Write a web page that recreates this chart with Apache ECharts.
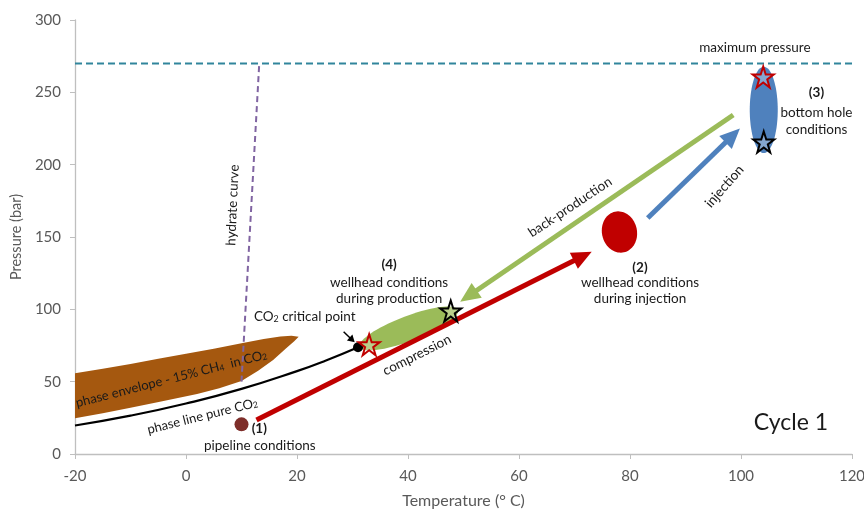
<!DOCTYPE html>
<html><head><meta charset="utf-8">
<script src="https://cdn.jsdelivr.net/npm/echarts@6/dist/echarts.min.js"></script>
<style>html,body{margin:0;padding:0;background:#fff}#c{width:864px;height:511px}</style>
</head><body><div id="c"></div>
<script>
// ---- data (data coordinates: temperature °C, pressure bar) ----
const xTicks = [-20, 0, 20, 40, 60, 80, 100, 120];
const yTicks = [0, 50, 100, 150, 200, 250, 300];
const maxPressure = [[-20, 270], [120, 270]];
const hydrateCurve = [[10, 50], [13.2, 270]];
const phaseLineCO2 = [[-20, 19.7], [-10, 26.5], [0, 34.9], [10, 45.0], [20, 57.3], [25, 64.3], [31, 73.8]];
const criticalPoint = [[31, 73.8]];
const pipelinePoint = [[10, 20.5]];
const phaseEnvelopeTop = [[-20, 55.8], [-15, 58.9], [-10, 62.2], [-5, 65.9], [0, 69.3], [5, 72.8], [10, 76.5], [14, 79.5], [17, 81.2], [19, 81.8], [20.3, 81]];
const phaseEnvelopeBottom = [[19.5, 78], [18, 73], [15.7, 65], [13, 57.5], [10, 50.5], [6, 45.5], [2, 41.5], [-4.7, 36.2], [-10, 32], [-15, 28.2], [-20, 24.7]];
const redStars = [[33, 75.5], [104, 260.6]];
const blackStars = [[47.7, 98.8], [104.1, 215.7]];
// arrows: [xStart, yStart, xTip, yTip]
const compressionArrow = [12.7, 23.5, 73.1, 139.8];
const backProductionArrow = [98.6, 234.3, 49.4, 105.3];
const injectionArrow = [83.2, 163.1, 99.8, 225];
const criticalArrow = [28.4, 84.5, 30.4, 77.2];
// ellipses: major axis end points [x1, y1, x2, y2]
const productionEllipse = [31.3, 74, 49, 99.6];
const injectionEllipse = [77.3, 167.5, 78.9, 139.4];
const bottomHoleEllipse = [104.1, 267.7, 104.1, 208];
// text annotations anchored in data coordinates
const annotations = [
  { x: 102.5, y: 280.6, text: 'maximum pressure', kind: 'note' },
  { x: 8.4, y: 172, text: 'hydrate curve', kind: 'vert' },
  { x: 113.6, y: 249.5, text: '(3)', kind: 'bold' },
  { x: 113.6, y: 235.7, text: 'bottom hole', kind: 'note' },
  { x: 113.6, y: 224.0, text: 'conditions', kind: 'note' },
  { x: 81.8, y: 128.6, text: '(2)', kind: 'bold' },
  { x: 81.8, y: 118.2, text: 'wellhead conditions', kind: 'note' },
  { x: 81.8, y: 107.3, text: 'during injection', kind: 'note' },
  { x: 36.6, y: 130.6, text: '(4)', kind: 'bold' },
  { x: 36.6, y: 118.2, text: 'wellhead conditions', kind: 'note' },
  { x: 36.6, y: 107.6, text: 'during production', kind: 'note' },
  { x: 21.4, y: 95.4, text: '{n|CO}{s|2}{n| critical point}', kind: 'rich' },
  { x: 13.2, y: 17.8, text: '(1)', kind: 'bold' },
  { x: 13.3, y: 5.6, text: 'pipeline conditions', kind: 'note' },
  { x: 109, y: 21.4, text: 'Cycle 1', kind: 'big' },
  { x: 41.6, y: 68.4, text: 'compression', kind: 'alongRed' },
  { x: 69.2, y: 170.7, text: 'back-production', kind: 'alongGreen' },
  { x: 97.0, y: 185.0, text: 'injection', kind: 'alongBlue' },
  { x: -2.7, y: 53.0, text: '{n|phase envelope - 15% CH}{s|4}{n|  in CO}{s|2}', kind: 'envelope' },
  { x: 2.9, y: 27.2, text: '{n|phase line pure CO}{s|2}', kind: 'phaseline' }
];

// ---- styling ----
const FONT = 'Lato, "Open Sans", sans-serif';
const TXT = '#1a1a1a';
const deg = Math.PI / 180;
const kindStyle = {
  note: { size: 13.5, rot: 0, weight: 'normal' },
  bold: { size: 13.5, rot: 0, weight: 'bold' },
  vert: { size: 13.5, rot: 87.5, weight: 'normal' },
  rich: { size: 13.5, rot: 0, weight: 'normal' },
  big: { size: 23, rot: 0, weight: 'normal' },
  alongRed: { size: 13.5, rot: 26.7, weight: 'normal' },
  alongGreen: { size: 13.5, rot: 33.6, weight: 'normal' },
  alongBlue: { size: 13.5, rot: 49, weight: 'normal' },
  envelope: { size: 13, rot: 14.4, weight: 'normal' },
  phaseline: { size: 13, rot: 14, weight: 'normal' }
};
const richSub = (size) => ({
  n: { fontSize: size, fontFamily: FONT, color: TXT, lineHeight: 16, verticalAlign: 'bottom' },
  s: { fontSize: size * 0.66, fontFamily: FONT, color: TXT, lineHeight: 9, verticalAlign: 'bottom' }
});

const chart = echarts.init(document.getElementById('c'), null, { renderer: 'canvas' });

function arrowSeries(name, arr, color, width, headLen, headHalf) {
  return {
    type: 'custom', name, z: 5, silent: true,
    data: [arr],
    renderItem(params, api) {
      const p1 = api.coord([api.value(0), api.value(1)]);
      const p2 = api.coord([api.value(2), api.value(3)]);
      const dx = p2[0] - p1[0], dy = p2[1] - p1[1];
      const L = Math.sqrt(dx * dx + dy * dy);
      const ux = dx / L, uy = dy / L;
      const bx = p2[0] - ux * headLen, by = p2[1] - uy * headLen;
      return {
        type: 'group', children: [
          { type: 'line', shape: { x1: p1[0], y1: p1[1], x2: bx + ux * 1, y2: by + uy * 1 }, style: { stroke: color, lineWidth: width } },
          { type: 'polygon', shape: { points: [[p2[0], p2[1]], [bx - uy * headHalf, by + ux * headHalf], [bx + uy * headHalf, by - ux * headHalf]] }, style: { fill: color } }
        ]
      };
    }
  };
}

function ellipseSeries(name, arr, color, semiMinor, z) {
  return {
    type: 'custom', name, z: z || 3, silent: true,
    data: [arr],
    renderItem(params, api) {
      const p1 = api.coord([api.value(0), api.value(1)]);
      const p2 = api.coord([api.value(2), api.value(3)]);
      const cx = (p1[0] + p2[0]) / 2, cy = (p1[1] + p2[1]) / 2;
      const dx = p2[0] - p1[0], dy = p2[1] - p1[1];
      const a = Math.sqrt(dx * dx + dy * dy) / 2;
      const ang = Math.atan2(dy, dx);
      const pts = [];
      for (let i = 0; i < 72; i++) {
        const t = i / 72 * Math.PI * 2;
        const ex = a * Math.cos(t), ey = semiMinor * Math.sin(t);
        pts.push([cx + ex * Math.cos(ang) - ey * Math.sin(ang), cy + ex * Math.sin(ang) + ey * Math.cos(ang)]);
      }
      return { type: 'polygon', shape: { points: pts }, style: { fill: color } };
    }
  };
}

const starPath = 'path://M50,2 L61.5,37 L98,37 L68.5,58.5 L79.5,94 L50,72 L20.5,94 L31.5,58.5 L2,37 L38.5,37 Z';

const option = {
  animation: false,
  backgroundColor: '#ffffff',
  grid: { left: 75, right: 12, top: 20, bottom: 57, containLabel: false, outerBoundsMode: 'none' },
  xAxis: {
    type: 'value', min: xTicks[0], max: xTicks[xTicks.length - 1], interval: xTicks[1] - xTicks[0],
    name: 'Temperature (° C)', nameLocation: 'middle', nameGap: 39,
    nameTextStyle: { color: '#595959', fontSize: 16, fontFamily: FONT },
    axisLine: { onZero: false, lineStyle: { color: '#BFBFBF', width: 1.3 } },
    axisTick: { show: true, length: 5, lineStyle: { color: '#BFBFBF' } },
    axisLabel: { color: '#595959', fontSize: 15, fontFamily: FONT, margin: 15 },
    splitLine: { show: false }
  },
  yAxis: {
    type: 'value', min: yTicks[0], max: yTicks[yTicks.length - 1], interval: yTicks[1] - yTicks[0],
    name: 'Pressure (bar)', nameLocation: 'middle', nameGap: 50, nameRotate: 90,
    nameTextStyle: { color: '#595959', fontSize: 14.5, fontFamily: FONT },
    axisLine: { show: true, onZero: false, lineStyle: { color: '#BFBFBF', width: 1.3 } },
    axisTick: { show: true, length: 5, lineStyle: { color: '#BFBFBF' } },
    axisLabel: { color: '#595959', fontSize: 15, fontFamily: FONT, margin: 14 },
    splitLine: { show: false }
  },
  series: [
    {
      type: 'custom', name: 'phase envelope', z: 2, silent: true,
      data: [0],
      renderItem(params, api) {
        const pts = phaseEnvelopeTop.concat(phaseEnvelopeBottom).map(p => api.coord(p));
        return { type: 'polygon', shape: { points: pts }, style: { fill: '#A5580F' } };
      }
    },
    {
      type: 'line', name: 'hydrate curve', data: hydrateCurve, showSymbol: false, z: 3, silent: true,
      lineStyle: { color: '#8064A2', width: 2, type: [6, 4] }
    },
    {
      type: 'line', name: 'maximum pressure', data: maxPressure, showSymbol: false, z: 3, silent: true,
      lineStyle: { color: '#31859C', width: 2, type: [7, 4] }
    },
    {
      type: 'line', name: 'phase line pure CO2', data: phaseLineCO2, showSymbol: false, smooth: true, z: 4, silent: true,
      lineStyle: { color: '#000000', width: 2.2 }
    },
    ellipseSeries('production', productionEllipse, '#9BBB59', 12.5),
    ellipseSeries('injection wellhead', injectionEllipse, '#C00000', 17.5),
    ellipseSeries('bottom hole', bottomHoleEllipse, '#4F81BD', 14),
    arrowSeries('compression', compressionArrow, '#C00000', 5, 20, 9),
    arrowSeries('back-production', backProductionArrow, '#9BBB59', 5, 20, 9),
    arrowSeries('injection', injectionArrow, '#4F81BD', 5, 20, 9),
    arrowSeries('critical arrow', criticalArrow, '#000000', 1.5, 7, 4),
    {
      type: 'scatter', name: 'critical point', data: criticalPoint, symbol: 'circle', symbolSize: 10, z: 6, silent: true,
      itemStyle: { color: '#000000', opacity: 1 }
    },
    {
      type: 'scatter', name: 'pipeline', data: pipelinePoint, symbol: 'circle', symbolSize: 14, z: 6, silent: true,
      itemStyle: { color: '#7E2E2A', opacity: 1 }
    },
    {
      type: 'scatter', name: 'red stars', data: redStars, symbol: starPath, symbolSize: 21, z: 7, silent: true,
      itemStyle: { color: 'rgba(255,255,255,0.3)', borderColor: '#C00000', borderWidth: 2, opacity: 1 }
    },
    {
      type: 'scatter', name: 'black stars', data: blackStars, symbol: starPath, symbolSize: 21, z: 7, silent: true,
      itemStyle: { color: 'rgba(255,255,255,0.3)', borderColor: '#000000', borderWidth: 2, opacity: 1 }
    },
    {
      type: 'custom', name: 'annotations', z: 8, silent: true,
      data: annotations.map(a => [a.x, a.y]),
      renderItem(params, api) {
        const a = annotations[params.dataIndex];
        const st = kindStyle[a.kind];
        const p = api.coord([api.value(0), api.value(1)]);
        const isRich = a.text.indexOf('{') === 0;
        const style = {
          text: a.text,
          fill: TXT,
          fontSize: st.size,
          fontFamily: FONT,
          fontWeight: st.weight,
          align: 'center', verticalAlign: 'middle',
          textAlign: 'center', textVerticalAlign: 'middle'
        };
        if (isRich) style.rich = richSub(st.size);
        return { type: 'text', x: p[0], y: p[1], rotation: st.rot * deg, style };
      }
    }
  ]
};
chart.setOption(option);
</script>
</body></html>
